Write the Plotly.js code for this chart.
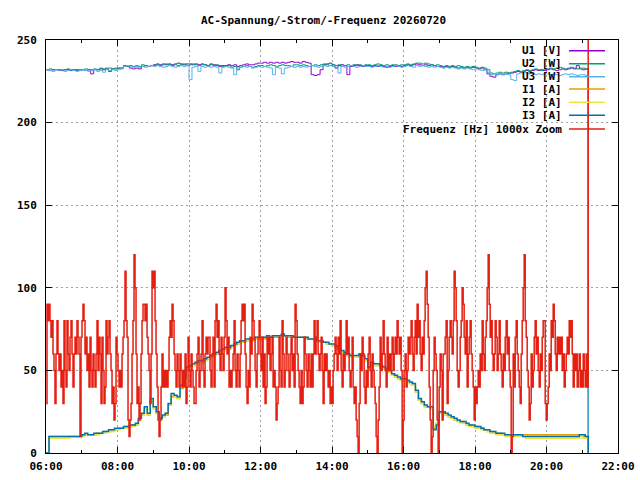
<!DOCTYPE html>
<html>
<head>
<meta charset="utf-8">
<script src="https://cdn.plot.ly/plotly-3.0.1.min.js"></script>
<style>
  html, body { margin: 0; padding: 0; background: #fff; }
  #plotlyFig { width: 640px; height: 480px; }
</style>
</head>
<body>
<div id="plotlyFig"></div>
<script>
// series sampled every 5 minutes from 06:00 to 21:10 (one row per hour)
const u1 = [
    232,231.5,232,232,232,231.5,232,232,231.5,232,232,231.5,
    232,231.5,232,229.5,232,232,232.5,232,232.5,231,232.5,232.5,
    233,233,234.5,234,233,232.5,233,232.5,234,234.5,234,234.5,
    235,235.5,235,235.5,235,235.5,235,235.5,236,235.5,235,235.5,
    235.5,235,235.5,235,235.5,235,234.5,235.5,235,234.5,234,234.5,
    234.5,235,234.5,235,234,234.5,235,235.5,235,235,235.5,236,
    236,236.5,236,236.5,236,236.5,236,236.5,236,236.5,237,236.5,
    236.5,236,237,236.5,236,229,228.5,229,232,235,235.5,236,
    235,233,234.5,235,234.5,229,234,234.5,235,234.5,234,234.5,
    234.5,234,234.5,234,234.5,234,233.5,234,234.5,234,234.5,234,
    234.5,235,234.5,235,235.5,235,234.5,235,234.5,235,234.5,234,
    234,233.5,234,233.5,234,233.5,233,233.5,233,233.5,233,233.5,
    233,232.5,233,232,229.5,228,227.5,229,229.5,229,229.5,230,
    230,230.5,231,230.5,231,231.5,231,231.5,232,231.5,232,231.5,
    232,232.5,232,231.5,232,232.5,232,232.5,233,232.5,234.5,232.5,
    232,232.5,0
];
const u2 = [
    232,232.5,232,232,231.5,232,232,232.5,232,232,231.5,232,
    232,232.5,232,232,232.5,232,233,232.5,233,233,232.5,233,
    233,233,234.5,234,234.5,234,234.5,234,235,234.5,234,234.5,
    234.5,235,234.5,235,235.5,235,234.5,235,234.5,235,235.5,234.5,
    235,235.5,235,234.5,235,235,234.5,235,234.5,235,234.5,234,
    234,234.5,233.5,234,232,233.5,234,234.5,234,233.5,234,234.5,
    234.5,234,234.5,235,234.5,234,234.5,235,234.5,234.5,234,235,
    235,234.5,235,234.5,234,234.5,235,234.5,235,235.5,235,234.5,
    235,234.5,235,234,234.5,235,234.5,235,234.5,235,234.5,235,
    235,234.5,235,235.5,235,234.5,235,234.5,235,235,234.5,235,
    235,235.5,235,235.5,236,236,235.5,236,235.5,235,234.5,235,
    234.5,234,234.5,234,234.5,234,234.5,234,233.5,234,233.5,234,
    233.5,233,233.5,233,232,230,229.5,230,230.5,230,230.5,230,
    230.5,231,231.5,231,231.5,232,231.5,232,232.5,232,231.5,232,
    232.5,233,232.5,233,233.5,233,232.5,233,233.5,233,232.5,233,
    233,232.5,0
];
const u3 = [
    232,231.5,231,232,231.5,232,231,231.5,232,231.5,231,231.5,
    232,231.5,231,231.5,232,231,231.5,230.5,232,231.5,232,231.5,
    232,232.5,234,234.5,234,233.5,234,233.5,234,233.5,234,234.5,
    234,234.5,234,233.5,234,234.5,234,233.5,234,234.5,234,234.5,
    226,233.5,234,231,234,233.5,234,233.5,234,233.5,230,233.5,
    234,233.5,233,229,233,233.5,234,233.5,234,233,233.5,234,
    233.5,234,233.5,233,229,233.5,233,229.5,233,233.5,234,233.5,
    234,233.5,234,233.5,234,234.5,234,233.5,234,234.5,234,234.5,
    234,233.5,230,234,233.5,234,234.5,234,233.5,234,234.5,234,
    234,233.5,234,234.5,234,233.5,234,233.5,234,234.5,234,233.5,
    234,234.5,234,233.5,234.5,234,234.5,234,233.5,234,233.5,234,
    233.5,233,233.5,233,233.5,233,232.5,233,232.5,233,232.5,232,
    232.5,232,231.5,232,230.5,229,229.5,229,229.5,229,229.5,229,
    226,225.5,229.5,230,230.5,230,229.5,230,229,229.5,229,229.5,
    229.5,229,229.5,229,228.5,229,229.5,229,229.5,229,228.5,229,
    229,228.5,0
];
const i1 = [
    0,10,10,10,10,10,10,10,10,10,10,10,
    11,11,11,11,11,12,12,12,13,13,14,14,
    15,15,15,16,16,17,17,20,23,27,23,31,
    27,24,20,22,23,29,34,34,33,39,45,51,
    52,53,54,55,55,56,57,58,59,60,61,62,
    63,63,64,65,66,67,67,68,68,68,69,69,
    69,69,70,70,70,70,71,71,71,70,70,70,
    70,70,70,69,69,69,68,68,67,67,66,66,
    65,64,62,61,60,59,58,58,58,59,58,56,
    51,54,53,53,52,51,50,49,47,46,45,44,
    44,43,42,41,37,32,30,28,28,27,15,18,
    24,24,23,22,21,20,19,19,18,17,17,16,
    16,15,15,14,13,13,12,12,12,11,11,11,
    11,11,11,11,11,11,11,11,11,11,11,11,
    11,11,11,11,11,11,11,11,11,11,11,10,
    10,10,0
];
const i2 = [
    0,9,9,9,9,9,9,9,10,10,10,10,
    10,11,11,11,11,11,12,12,13,13,13,14,
    14,15,15,15,16,16,17,20,23,27,23,32,
    27,24,20,22,24,29,35,34,33,40,45,51,
    52,53,54,55,56,56,57,58,59,60,61,62,
    63,64,64,65,66,67,68,68,69,69,69,70,
    70,70,70,71,71,71,71,71,71,71,70,70,
    70,70,70,70,69,69,68,68,67,67,66,66,
    65,64,62,61,60,59,58,58,58,59,58,56,
    51,54,53,53,52,51,50,49,47,46,45,44,
    44,43,42,41,37,32,30,28,28,27,16,18,
    24,24,23,22,21,20,19,18,18,17,16,16,
    15,15,14,14,13,12,12,11,11,11,10,10,
    10,10,10,10,10,9,9,9,9,9,9,9,
    9,9,9,9,9,9,9,9,9,9,9,10,
    9,9,0
];
const i3 = [
    0,10,10,10,10,10,10,10,10,10,10,10,
    11,12,11,11,12,12,12,13,13,14,14,15,
    15,15,16,16,17,17,18,21,24,28,24,33,
    28,25,21,23,24,30,36,35,34,41,46,52,
    53,54,55,56,56,57,58,59,60,61,62,63,
    64,64,65,66,67,68,68,69,69,69,70,70,
    70,70,71,70,71,71,71,72,71,71,71,70,
    70,70,70,70,69,69,69,68,68,67,67,66,
    66,65,63,62,61,60,59,59,59,60,59,57,
    52,55,54,54,53,52,51,50,48,47,46,45,
    45,44,43,42,38,33,31,29,28,28,14,17,
    25,25,24,23,22,21,20,19,19,18,17,17,
    16,16,15,14,14,13,13,12,12,12,11,11,
    11,11,11,11,10,10,10,10,10,10,10,10,
    10,10,10,10,10,10,10,10,10,10,10,11,
    11,10,0
];
// frequency (1000x zoom), logged more often, evenly spaced 06:00 .. 21:10
const freq = [
    30,90,80,90,80,70,80,60,50,30,60,80,60,50,60,40,50,30,80,50,40,80,60,50,70,80,60,40,60,70,60,80,70,60,10,70,80,90,80,60,
    70,50,60,40,70,50,40,60,50,40,60,80,50,70,60,30,70,50,30,40,80,60,70,80,60,50,30,40,20,30,70,60,50,40,50,40,60,70,80,110,
    80,70,20,10,20,30,60,80,120,100,60,30,40,20,30,60,80,90,
    90,80,90,70,60,50,30,60,110,100,110,80,60,40,20,10,20,40,60,40,50,40,50,40,50,70,80,70,90,80,60,50,40,60,50,40,60,50,40,50,
    40,60,30,40,70,50,40,60,50,40,30,30,50,60,70,40,50,60,80,50,40,60,70,60,70,70,50,40,60,70,40,80,90,70,80,60,50,70,60,50,
    70,100,80,60,70,40,50,40,50,60,80,50,40,60,50,40,60,80,90,80,
    90,60,40,30,50,40,70,60,90,80,70,50,40,60,70,80,60,50,70,40,60,30,40,70,60,70,50,60,70,40,50,40,20,30,40,70,50,40,80,60,
    40,50,70,60,50,40,60,70,50,60,40,90,80,60,50,40,30,50,30,40,70,60,50,40,60,50,40,60,40,60,80,60,70,80,60,50,60,70,50,30,
    60,50,60,50,40,50,30,40,30,50,60,70,60,50,70,60,80,50,40,60,
    50,60,80,60,70,50,40,50,70,40,30,40,20,10,0,30,60,50,70,60,40,30,50,40,60,70,50,40,60,50,40,30,10,0,20,40,70,50,60,80,
    60,50,40,70,50,60,50,60,70,50,60,70,60,80,70,60,70,50,0,20,50,60,40,50,70,60,70,80,60,50,70,80,60,90,70,80,60,50,70,60,
    80,100,110,90,70,40,20,0,10,50,70,60,50,20,0,40,60,50,20,60,
    60,70,80,30,50,70,80,70,60,80,110,100,80,50,40,50,70,80,100,90,70,60,80,40,60,70,80,60,50,40,20,40,30,40,50,40,60,50,80,60,
    50,70,80,100,120,90,70,80,60,50,60,80,70,50,60,80,60,50,40,60,50,70,80,60,70,50,40,0,10,60,40,70,80,60,50,40,30,60,80,100,
    120,80,70,50,40,20,30,60,40,50,70,80,60,70,50,40,60,50,70,80,
    80,30,20,30,40,60,50,80,70,90,80,60,50,70,60,70,60,70,50,60,40,50,60,70,60,80,70,80,60,40,60,50,60,40,50,60,40,50,40,60,
    50,40,60,40,300
];

const names = ['U1 [V]', 'U2 [W]', 'U3 [W]', 'I1 [A]', 'I2 [A]', 'I3 [A]', 'Frequenz [Hz] 1000x Zoom'];
const colors = ['#9400d3', '#009e73', '#56b4e9', '#e69f00', '#f0e442', '#0072b2', '#e51e10'];

const startMs = Date.UTC(2026, 6, 20, 6, 0);
const endMs = Date.UTC(2026, 6, 20, 21, 10);
const fiveMin = 5 * 60 * 1000;

function times5(n) {
    return Array.from({length: n}, (_, k) => startMs + k * fiveMin);
}
function timesSpread(n) {
    return Array.from({length: n}, (_, k) => startMs + k * (endMs - startMs) / (n - 1));
}

const font = {family: '"DejaVu Sans Mono", "Liberation Mono", monospace', size: 11, color: '#000', weight: 'bold'};

const series = [u1, u2, u3, i1, i2, i3, freq];
const traces = series.map((vals, k) => ({
    x: k === 6 ? timesSpread(vals.length) : times5(vals.length),
    y: vals,
    type: 'scatter',
    mode: 'lines',
    line: {color: colors[k], width: k >= 3 ? 1.5 : 1, shape: 'hv'},
    name: names[k],
    hoverinfo: 'skip',
}));

// gnuplot-style key: text right aligned, sample line on its right
const keyRows = [50.7, 63.7, 76.7, 89, 102.3, 115.3, 129];
const plotTop = 40, plotBottom = 453, plotLeft = 46, plotRight = 618;
const toPy = y => (plotBottom - y) / (plotBottom - plotTop);
const toPx = x => (x - plotLeft) / (plotRight - plotLeft);

const annotations = names.map((n, k) => ({
    text: n,
    xref: 'paper', yref: 'paper',
    x: toPx(564), y: toPy(keyRows[k]),
    xanchor: 'right', yanchor: 'middle',
    showarrow: false,
    font: font,
}));
const shapes = names.map((n, k) => ({
    type: 'line',
    xref: 'paper', yref: 'paper',
    x0: toPx(569), x1: toPx(605),
    y0: toPy(keyRows[k]), y1: toPy(keyRows[k]),
    line: {color: colors[k], width: 1.5},
}));

const layout = {
    width: 640,
    height: 480,
    margin: {l: 46, r: 22, t: 40, b: 27},
    paper_bgcolor: '#fff',
    plot_bgcolor: '#fff',
    font: font,
    showlegend: false,
    title: {
        text: 'AC-Spannung/-Strom/-Frequenz 20260720',
        font: font,
        xref: 'paper', x: toPx(323.5), xanchor: 'center',
        yref: 'container', y: 0.958, yanchor: 'middle',
    },
    xaxis: {
        type: 'date',
        range: [Date.UTC(2026, 6, 20, 6, 0), Date.UTC(2026, 6, 20, 22, 0)],
        dtick: 2 * 3600 * 1000,
        tickformat: '%H:%M',
        ticks: 'inside',
        ticklen: 6,
        tickcolor: '#000',
        ticklabelstandoff: 3,
        showline: true,
        linecolor: '#000',
        linewidth: 1,
        mirror: 'allticks',
        showgrid: true,
        gridcolor: '#a0a0a0',
        griddash: '2px,3px',
        zeroline: false,
        minor: {dtick: 3600 * 1000, ticks: 'inside', ticklen: 3, tickcolor: '#000', showgrid: false},
        fixedrange: true,
    },
    yaxis: {
        range: [0, 250],
        dtick: 50,
        ticks: 'inside',
        ticklen: 6,
        tickcolor: '#000',
        ticklabelstandoff: 6,
        showline: true,
        linecolor: '#000',
        linewidth: 1,
        mirror: 'allticks',
        showgrid: true,
        gridcolor: '#a0a0a0',
        griddash: '2px,3px',
        zeroline: false,
        fixedrange: true,
    },
    annotations: annotations,
    shapes: shapes,
};

Plotly.newPlot(document.getElementById('plotlyFig'), traces, layout, {staticPlot: true});
</script>
</body>
</html>
